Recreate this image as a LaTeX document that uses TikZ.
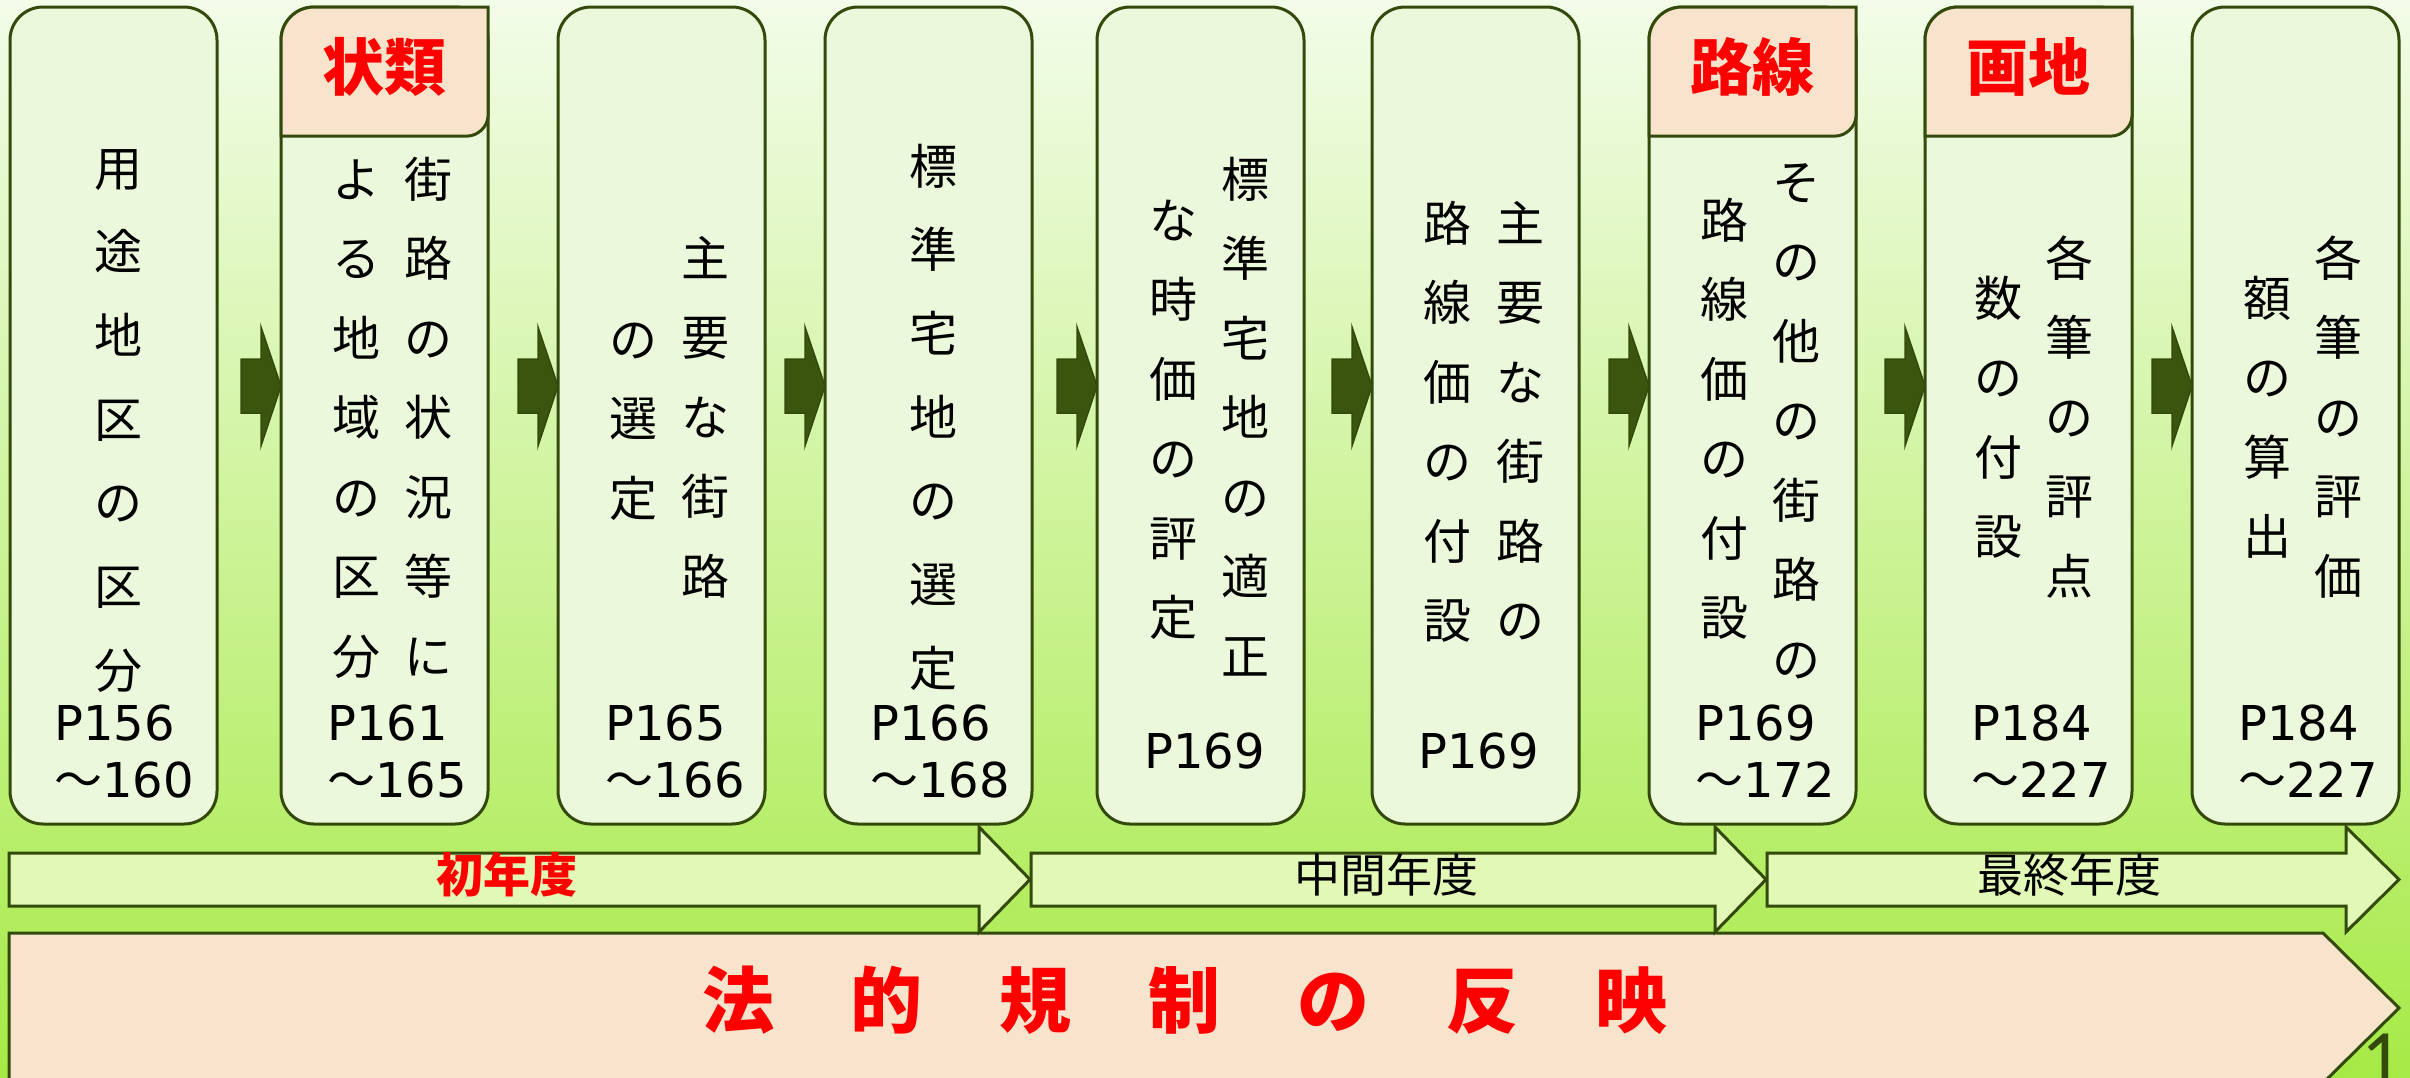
\documentclass[tikz,border=0pt]{standalone}
\usepackage{fontspec}
\setmainfont{Noto Sans CJK JP}
\newfontfamily\jpf{Noto Sans CJK JP}
\newfontfamily\pnumf{DejaVu Sans}
\newfontfamily\pgnumf{Carlito}
\usetikzlibrary{calc}
\definecolor{bgtop}{HTML}{F3FCE9}
\definecolor{bgmid}{HTML}{D4F5A2}
\definecolor{bgbot}{HTML}{A6EA46}
\definecolor{boxfill}{HTML}{ECF8DB}
\definecolor{edge}{HTML}{344A0C}
\definecolor{hdrfill}{HTML}{F8E4CD}
\definecolor{chevfill}{HTML}{3A560E}
\definecolor{yrfill}{HTML}{E1F8B6}
\definecolor{lawred}{HTML}{FF0000}
\newcommand\tate[2]{\parbox[t]{60pt}{\centering\fontsize{48}{#1}\selectfont #2\par}}
\newcommand\pref[1]{\parbox[t]{200pt}{\raggedright\fontsize{48}{57}\selectfont\pnumf #1\par}}
\begin{document}
\begin{tikzpicture}[x=1pt,y=-1pt,
  box/.style={draw=edge, line width=3pt, fill=boxfill, rounded corners=33pt,
    minimum width=207pt, minimum height=817pt, inner sep=0pt, outer sep=0pt},
  hdr/.style={draw=edge, line width=3pt, fill=hdrfill},
  hdrtext/.style={text=lawred, font=\fontsize{62}{62}\selectfont\bfseries, inner sep=0pt},
  chevron/.style={fill=chevfill, draw=edge, line width=1.5pt},
  yr/.style={draw=edge, line width=3pt, fill=yrfill},
  law/.style={draw=edge, line width=3pt, fill=hdrfill},
  col/.style={inner sep=0pt, anchor=base},
  pn/.style={inner sep=0pt, anchor=base west},
]
\useasboundingbox (0,0) rectangle (2410,1077);
\clip (0,0) rectangle (2410,1077);
\shade[top color=bgtop, middle color=bgmid, bottom color=bgbot] (0,0) rectangle (2410,1077);

% process boxes
\foreach \n/\L in {1/10,2/281,3/558,4/825,5/1097,6/1372,7/1649,8/1925,9/2192}
  \node[box] (b\n) at (\L+103.5,415.5) {};

% headers
\foreach \n/\L/\t in {2/281/状類,7/1649/路線,8/1925/画地}{
  \draw[hdr] (\L,136) -- (\L,40) .. controls (\L,21.8) and (\L+14.8,7) .. (\L+33,7)
    -- (\L+207,7) -- (\L+207,116) .. controls (\L+207,127) and (\L+196,136) .. (\L+187,136) -- cycle;
  \node[hdrtext] (h\n) at (\L+103.5,67) {\t};
}

% chevron arrows between boxes
\foreach \a/\b in {1/2,2/3,3/4,4/5,5/6,6/7,7/8,8/9}
  \draw[chevron] ($(b\b.west)+(-40,-56.5)$) -- ($(b\b.west)+(-20,-56.5)$)
    -- ($(b\b.west)+(-20,-88.5)$) -- ($(b\b.west)+(0,-29.5)$)
    -- ($(b\b.west)+(-20,30.5)$) -- ($(b\b.west)+(-20,-2.5)$)
    -- ($(b\b.west)+(-40,-2.5)$) -- cycle;

% box texts
\node[col] (t1) at (118,186) {\tate{83.7}{用\\途\\地\\区\\の\\区\\分}};
\node[pn] (p1) at (54,740) {\pref{P156\\{\jpf ～}160}};

\node[col] (t2r) at (428,197) {\tate{79.5}{街\\路\\の\\状\\況\\等\\に}};
\node[col] (t2l) at (356,197) {\tate{79.5}{よ\\る\\地\\域\\の\\区\\分}};
\node[pn] (p2) at (327,740) {\pref{P161\\{\jpf ～}165}};

\node[col] (t3r) at (705,276) {\tate{79.5}{主\\要\\な\\街\\路}};
\node[col] (t3l) at (633,357) {\tate{79.5}{の\\選\\定}};
\node[pn] (p3) at (605,740) {\pref{P165\\{\jpf ～}166}};

\node[col] (t4) at (933,184) {\tate{83.7}{標\\準\\宅\\地\\の\\選\\定}};
\node[pn] (p4) at (870,740) {\pref{P166\\{\jpf ～}168}};

\node[col] (t5r) at (1245,197) {\tate{79.5}{標\\準\\宅\\地\\の\\適\\正}};
\node[col] (t5l) at (1173,238) {\tate{79.5}{な\\時\\価\\の\\評\\定}};
\node[pn] (p5) at (1144,768) {\pref{P169}};

\node[col] (t6r) at (1520,241) {\tate{79.5}{主\\要\\な\\街\\路\\の}};
\node[col] (t6l) at (1447,241) {\tate{79.5}{路\\線\\価\\の\\付\\設}};
\node[pn] (p6) at (1418,768) {\pref{P169}};

\node[col] (t7r) at (1796,200) {\tate{79.5}{そ\\の\\他\\の\\街\\路\\の}};
\node[col] (t7l) at (1724,238) {\tate{79.5}{路\\線\\価\\の\\付\\設}};
\node[pn] (p7) at (1695,740) {\pref{P169\\{\jpf ～}172}};

\node[col] (t8r) at (2069,276) {\tate{79.5}{各\\筆\\の\\評\\点}};
\node[col] (t8l) at (1998,316) {\tate{79.5}{数\\の\\付\\設}};
\node[pn] (p8) at (1971,740) {\pref{P184\\{\jpf ～}227}};

\node[col] (t9r) at (2338,276) {\tate{79.5}{各\\筆\\の\\評\\価}};
\node[col] (t9l) at (2267,316) {\tate{79.5}{額\\の\\算\\出}};
\node[pn] (p9) at (2238,740) {\pref{P184\\{\jpf ～}227}};

% law band
\draw[law] (9,933) -- (2323,933) -- (2399,1008) -- (2323,1083) -- (9,1083) -- cycle;
\node[text=lawred, font=\fontsize{72}{72}\selectfont\bfseries, inner sep=0pt] (lawt) at (1185,1000)
  {法\hskip77pt 的\hskip77pt 規\hskip77pt 制\hskip77pt の\hskip77pt 反\hskip77pt 映};

% year arrows
\draw[yr] (9,853) -- (979,853) -- (979,827) -- (1030,879.5) -- (979,932) -- (979,906) -- (9,906) -- cycle;
\draw[yr] (1031,853) -- (1715,853) -- (1715,827) -- (1766,879.5) -- (1715,932) -- (1715,906) -- (1031,906) -- cycle;
\draw[yr] (1767,853) -- (2346,853) -- (2346,827) -- (2399,879.5) -- (2346,932) -- (2346,906) -- (1767,906) -- cycle;
\node[text=lawred, font=\fontsize{47}{47}\selectfont\bfseries, inner sep=0pt] (y1) at (507,875) {初年度};
\node[font=\fontsize{46}{46}\selectfont, inner sep=0pt] (y2) at (1386,875) {中間年度};
\node[font=\fontsize{46}{46}\selectfont, inner sep=0pt] (y3) at (2069,875) {最終年度};

% page number
\node[anchor=north east, inner sep=0pt, text=edge, font=\pgnumf\fontsize{80}{80}\selectfont] (pg) at (2402,1034) {1};
\end{tikzpicture}
\end{document}
